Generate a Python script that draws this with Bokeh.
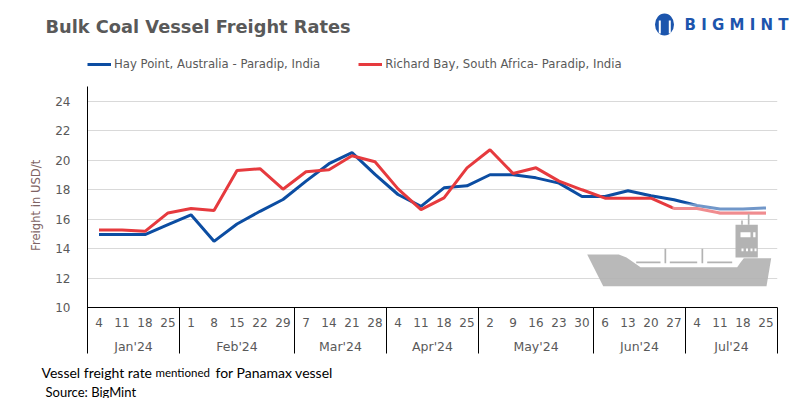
import numpy as np
from bokeh.plotting import figure
from bokeh.models import Range1d, FixedTicker, Legend, LegendItem
from bokeh.core.properties import value
from bokeh.embed import file_html
from bokeh.resources import INLINE

# ---------------- data ----------------
months = ["Jan'24", "Feb'24", "Mar'24", "Apr'24", "May'24", "Jun'24", "Jul'24"]
week_days = [
    ["4", "11", "18", "25"],
    ["1", "8", "15", "22", "29"],
    ["7", "14", "21", "28"],
    ["4", "11", "18", "25"],
    ["2", "9", "16", "23", "30"],
    ["6", "13", "20", "27"],
    ["4", "11", "18", "25"],
]
hay_point = [14.95, 14.95, 14.95, 15.63, 16.29, 14.49, 15.67, 16.53, 17.33, 18.58,
             19.76, 20.51, 19.03, 17.67, 16.86, 18.12, 18.26, 19.01, 19.01, 18.80,
             18.44, 17.53, 17.53, 17.92, 17.58, 17.31, 16.92, 16.69, 16.69, 16.76]
richards_bay = [15.26, 15.26, 15.17, 16.42, 16.72, 16.58, 19.30, 19.42, 18.03, 19.21,
                19.35, 20.30, 19.89, 18.05, 16.64, 17.44, 19.48, 20.71, 19.10, 19.48,
                18.58, 17.99, 17.42, 17.42, 17.42, 16.72, 16.72, 16.42, 16.42, 16.42]
series_names = ["Hay Point, Australia - Paradip, India",
                "Richard Bay, South Africa- Paradip, India"]
y_ticks = [10, 12, 14, 16, 18, 20, 22, 24]
y_max = 25
title_text = "Bulk Coal Vessel Freight Rates"
y_label = "Freight  in USD/t"
note_parts = ["Vessel freight rate", "mentioned", "for Panamax  vessel"]
source_text = "Source:  BigMint"
brand = "BIGMINT"

# ---------------- styling / geometry ----------------
BLUE = "#0c4da2"
RED = "#e63a3e"
GREY = "#595959"
FONT = "DejaVu Sans"
W, H = 807, 398
ML, MR, MT, MB = 87, 30, 50, 45
PLOT_TOP, PLOT_BOTTOM = 86, 353          # page pixels of y_max and of the lower axis edge
PX_PER_UNIT = (307 - PLOT_TOP) / (y_max - 10)
Y0 = 10 - (PLOT_BOTTOM - 307) / PX_PER_UNIT
Y1 = y_max + (PLOT_TOP - MT) / PX_PER_UNIT
N = len(hay_point)
FW, FH = W - ML - MR, H - MT - MB


def px2x(px):   # page pixel -> data x
    return (px - ML) / FW * N


def py2y(py):   # page pixel -> data y
    return Y1 - (py - MT) / FH * (Y1 - Y0)


def label(x, y, txt, font=FONT, size="12px", color=GREY, style="normal",
          align="left", baseline="middle", angle=0.0):
    p.text(x=[px2x(x)], y=[py2y(y)], text=[txt], text_font=value(font),
           text_font_size=size, text_color=color, text_font_style=style,
           text_align=align, text_baseline=baseline, angle=angle, level="overlay")


p = figure(width=W, height=H, output_backend="svg", toolbar_location=None,
           x_range=Range1d(0, N), y_range=Range1d(Y0, Y1),
           x_axis_location=None, min_border_left=ML, min_border_right=MR,
           min_border_top=MT, min_border_bottom=MB)
p.outline_line_color = None
p.xgrid.visible = False
p.ygrid.ticker = FixedTicker(ticks=y_ticks[1:])
p.ygrid.grid_line_color = "#d9d9d9"

ax = p.yaxis[0]
ax.ticker = FixedTicker(ticks=y_ticks)
ax.axis_line_color = None
ax.major_tick_line_color = None
ax.minor_tick_line_color = None
ax.major_label_standoff = 11
ax.major_label_text_font = FONT
ax.major_label_text_font_size = "12px"
ax.major_label_text_color = GREY

xs = np.arange(N) + 0.5
r_blue = p.line(xs, hay_point, line_width=3, color=BLUE)
r_red = p.line(xs, richards_bay, line_width=3, color=RED)

# faded area behind the ship picture
p.quad(left=px2x(672), right=N, top=py2y(203), bottom=py2y(214),
       fill_color="white", fill_alpha=0.42, line_alpha=0)

# ---- ship decoration (pixel outline) ----
SHIP = "#b3b3b3"
hull = [(586.7, 254), (618.3, 254), (626, 257), (635, 263.3), (640, 266.7), (736.7, 266.7),
        (740, 262), (743.3, 257.7), (770.7, 257.7), (766, 285.7), (602.7, 285.7)]
p.patch([px2x(a) for a, b in hull], [py2y(b) for a, b in hull], fill_color=SHIP, line_alpha=0,
        fill_alpha=0.92)
p.quad(left=[px2x(735), px2x(747.3), px2x(740.7), px2x(635.7), px2x(669.3), px2x(706.7),
             px2x(664), px2x(701)],
       right=[px2x(757.3), px2x(749), px2x(742.3), px2x(660), px2x(696.7), px2x(731.7),
              px2x(665.7), px2x(702.7)],
       top=[py2y(224.3), py2y(213.3), py2y(220), py2y(261), py2y(261), py2y(261),
            py2y(248.3), py2y(248.3)],
       bottom=[py2y(257), py2y(224.3), py2y(224.3), py2y(262.7), py2y(262.7), py2y(262.7),
               py2y(262.7), py2y(262.7)],
       fill_color=SHIP, line_alpha=0)
p.quad(left=[px2x(740), px2x(752.7), px2x(741), px2x(745.5), px2x(750), px2x(754)],
       right=[px2x(750), px2x(755), px2x(743), px2x(747.5), px2x(752), px2x(756)],
       top=[py2y(231.7), py2y(231.7), py2y(248), py2y(248), py2y(248), py2y(248)],
       bottom=[py2y(236.7), py2y(236.7), py2y(250.7), py2y(250.7), py2y(250.7), py2y(250.7)],
       fill_color="white", line_alpha=0)

# ---- axis lines and two-level category axis ----
counts = [len(d) for d in week_days]
bounds = np.cumsum(counts)
p.segment(x0=[0], y0=[Y0], x1=[0], y1=[y_max], line_color="black", line_width=1,
          level="overlay")
p.segment(x0=[0], y0=[10], x1=[N], y1=[10], line_color="black", line_width=1, level="overlay")
p.segment(x0=bounds, y0=[10] * len(bounds), x1=bounds, y1=[Y0] * len(bounds),
          line_color="black", line_width=1, level="overlay")
day_labels = [d for grp in week_days for d in grp]
p.text(x=xs, y=[py2y(322)] * N, text=day_labels, text_font=value(FONT),
       text_font_size="12px", text_color=GREY, text_align="center", text_baseline="middle")
mid = bounds - np.array(counts) / 2
p.text(x=mid, y=[py2y(346)] * len(months), text=months, text_font=value(FONT),
       text_font_size="12.5px", text_color=GREY, text_align="center", text_baseline="middle")

# ---- legend ----
legend = Legend(items=[LegendItem(label=series_names[0], renderers=[r_blue]),
                       LegendItem(label=series_names[1], renderers=[r_red])],
                orientation="horizontal", location=(0, PLOT_BOTTOM - 74), padding=0, margin=0,
                spacing=38, glyph_width=24, glyph_height=20, label_height=20,
                label_standoff=3, border_line_color=None, background_fill_alpha=0,
                label_text_font=FONT, label_text_font_size="11.7px", label_text_color=GREY)
p.add_layout(legend)

# ---- texts outside the plot area ----
label(45, 26, title_text, size="17.8px", style="bold")
label(35, 203, y_label, size="11.6px", color="#7f6464", align="center", angle=np.pi / 2)
for txt, x0, size in zip(note_parts, [41, 155, 215], ["14px", "11.5px", "14px"]):
    label(x0, 371.5, txt, font="Lato", size=size, color="black", baseline="alphabetic")
label(45, 391, source_text, font="Lato", size="13px", color="black", baseline="alphabetic")
label(684, 24, " ".join(brand), size="15px", color="#1c55ad", style="bold")

# logo mark
LOGO = "#1c55ad"
p.ellipse(x=[px2x(664)], y=[py2y(24)], width=[19 * N / FW], height=[22 * (Y1 - Y0) / FH],
          fill_color=LOGO, line_alpha=0, level="overlay")
p.quad(left=[px2x(658.3), px2x(668.3)], right=[px2x(660.3), px2x(670.3)],
       top=[py2y(20)] * 2, bottom=[py2y(33)] * 2, fill_color="white", line_alpha=0,
       level="overlay")
p.circle(x=[px2x(661.5), px2x(666.5)], y=[py2y(17.5)] * 2, radius=1.6 * N / FW,
         fill_color="white", line_alpha=0, level="overlay")

open("out.html", "w").write(file_html(p, INLINE))
